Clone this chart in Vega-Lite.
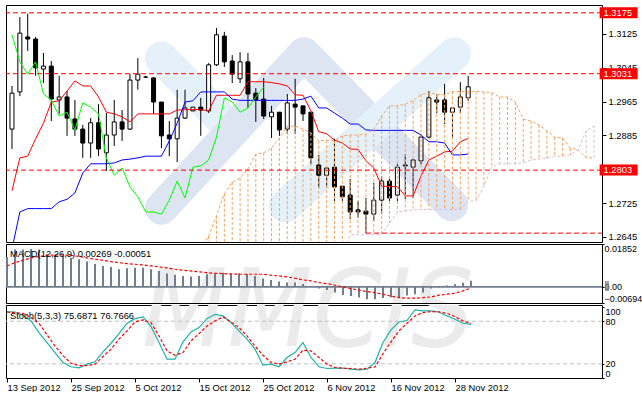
{
 "$schema": "https://vega.github.io/schema/vega-lite/v6.json",
 "padding": {"left": 4, "top": 4, "right": 0, "bottom": 0},
 "autosize": {"type": "pad"},
 "background": "#ffffff",
 "bounds": "flush",
 "spacing": 2,
 "config": {
  "font": "Liberation Sans",
  "view": {"stroke": "#000000", "strokeWidth": 1},
  "axis": {"labelFont": "Liberation Sans", "labelFontSize": 9.4, "labelColor": "#000000", "tickColor": "#000000", "domain": false, "grid": false}
 },
 "datasets": {
  "bars": [
   {"i":0,"o":1.2900,"h":1.3002,"l":1.2853,"c":1.2985,"tk":1.2754,"kj":1.2616,"ch":1.3123,"macd":0.01293,"sig":0.00905,"k":93.1,"d":93},
   {"i":1,"o":1.2988,"h":1.3165,"l":1.2978,"c":1.3127,"tk":1.2832,"kj":1.2704,"ch":1.3059,"macd":0.0162,"sig":0.01047,"k":93,"d":92},
   {"i":2,"o":1.3118,"h":1.3173,"l":1.3085,"c":1.3113,"tk":1.2836,"kj":1.2712,"ch":1.3030,"macd":0.0162,"sig":0.01151,"k":88.4,"d":91},
   {"i":3,"o":1.3113,"h":1.3118,"l":1.3026,"c":1.3045,"tk":1.2877,"kj":1.2712,"ch":1.3059,"macd":0.0164,"sig":0.0125,"k":80.4,"d":85},
   {"i":4,"o":1.3042,"h":1.3080,"l":1.3009,"c":1.3049,"tk":1.2914,"kj":1.2712,"ch":1.2983,"macd":0.0162,"sig":0.01315,"k":64,"d":77},
   {"i":5,"o":1.3049,"h":1.3061,"l":1.2919,"c":1.2971,"tk":1.2964,"kj":1.2712,"ch":1.2969,"macd":0.0141,"sig":0.01358,"k":50,"d":61},
   {"i":6,"o":1.2969,"h":1.3026,"l":1.2936,"c":1.2976,"tk":1.2967,"kj":1.2728,"ch":1.2931,"macd":0.0140,"sig":0.01379,"k":35.9,"d":45},
   {"i":7,"o":1.2976,"h":1.2990,"l":1.2884,"c":1.2926,"tk":1.2990,"kj":1.2734,"ch":1.2940,"macd":0.01336,"sig":0.01379,"k":21.8,"d":31.6},
   {"i":8,"o":1.2924,"h":1.2969,"l":1.2884,"c":1.2900,"tk":1.3014,"kj":1.2749,"ch":1.2898,"macd":0.01263,"sig":0.01358,"k":15.8,"d":20.7},
   {"i":9,"o":1.2900,"h":1.2910,"l":1.2832,"c":1.2867,"tk":1.3002,"kj":1.2796,"ch":1.2962,"macd":0.01194,"sig":0.01315,"k":14.3,"d":17.5},
   {"i":10,"o":1.2867,"h":1.2926,"l":1.2832,"c":1.2915,"tk":1.3002,"kj":1.2818,"ch":1.2952,"macd":0.01099,"sig":0.0125,"k":19.5,"d":17.5},
   {"i":11,"o":1.2915,"h":1.2959,"l":1.2836,"c":1.2853,"tk":1.2976,"kj":1.2818,"ch":1.2936,"macd":0.00991,"sig":0.01194,"k":22.8,"d":19.5},
   {"i":12,"o":1.2844,"h":1.2938,"l":1.2801,"c":1.2886,"tk":1.2940,"kj":1.2818,"ch":1.2832,"macd":0.00905,"sig":0.01151,"k":36.8,"d":30.3},
   {"i":13,"o":1.2886,"h":1.2969,"l":1.2860,"c":1.2917,"tk":1.2936,"kj":1.2820,"ch":1.2791,"macd":0.00862,"sig":0.0109,"k":49,"d":40.6},
   {"i":14,"o":1.2917,"h":1.2945,"l":1.2872,"c":1.2900,"tk":1.2929,"kj":1.2827,"ch":1.2808,"macd":0.00763,"sig":0.01047,"k":62.6,"d":54.7},
   {"i":15,"o":1.2900,"h":1.3030,"l":1.2898,"c":1.3016,"tk":1.2917,"kj":1.2829,"ch":1.2763,"macd":0.00806,"sig":0.01004,"k":77.2,"d":66.4},
   {"i":16,"o":1.3016,"h":1.3068,"l":1.2993,"c":1.3030,"tk":1.2936,"kj":1.2832,"ch":1.2740,"macd":0.00832,"sig":0.00978,"k":83.7,"d":79},
   {"i":17,"o":1.3023,"h":1.3026,"l":1.3021,"c":1.3023,"tk":1.2936,"kj":1.2836,"ch":1.2704,"macd":0.00832,"sig":0.00948,"k":86.1,"d":81.9},
   {"i":18,"o":1.3021,"h":1.3023,"l":1.2936,"c":1.2964,"tk":1.2936,"kj":1.2836,"ch":1.2704,"macd":0.00763,"sig":0.00905,"k":72.5,"d":78},
   {"i":19,"o":1.2964,"h":1.2964,"l":1.2855,"c":1.2884,"tk":1.2936,"kj":1.2836,"ch":1.2699,"macd":0.0069,"sig":0.00862,"k":50,"d":59.3},
   {"i":20,"o":1.2886,"h":1.2919,"l":1.2836,"c":1.2877,"tk":1.2936,"kj":1.2872,"ch":1.2732,"macd":0.00582,"sig":0.00819,"k":26.5,"d":38.2},
   {"i":21,"o":1.2877,"h":1.2993,"l":1.2822,"c":1.2926,"tk":1.2945,"kj":1.2914,"ch":1.2777,"macd":0.0053,"sig":0.00763,"k":26.5,"d":32.1},
   {"i":22,"o":1.2926,"h":1.2993,"l":1.2924,"c":1.2950,"tk":1.2946,"kj":1.2964,"ch":1.2737,"macd":0.00474,"sig":0.0072,"k":51,"d":35.9},
   {"i":23,"o":1.2943,"h":1.2952,"l":1.2943,"c":1.2952,"tk":1.2946,"kj":1.2967,"ch":1.2810,"macd":0.00453,"sig":0.0069,"k":65,"d":52.2},
   {"i":24,"o":1.2952,"h":1.2974,"l":1.2884,"c":1.2945,"tk":1.2946,"kj":1.2988,"ch":1.2813,"macd":0.00474,"sig":0.00647,"k":71,"d":62.6},
   {"i":25,"o":1.2943,"h":1.3056,"l":1.2938,"c":1.3052,"tk":1.2943,"kj":1.2988,"ch":1.2827,"macd":0.00547,"sig":0.00616,"k":83.7,"d":73.3},
   {"i":26,"o":1.3052,"h":1.3139,"l":1.3049,"c":1.3123,"tk":1.2980,"kj":1.2988,"ch":1.2881,"macd":0.0059,"sig":0.0059,"k":89.8,"d":80.4},
   {"i":27,"o":1.3120,"h":1.3130,"l":1.3047,"c":1.3059,"tk":1.2980,"kj":1.2988,"ch":1.2974,"macd":0.00616,"sig":0.00573,"k":87.5,"d":86.1},
   {"i":28,"o":1.3061,"h":1.3075,"l":1.3009,"c":1.3030,"tk":1.2980,"kj":1.2971,"ch":1.2964,"macd":0.00569,"sig":0.0056,"k":78,"d":79},
   {"i":29,"o":1.3019,"h":1.3082,"l":1.3009,"c":1.3059,"tk":1.2980,"kj":1.2968,"ch":1.2940,"macd":0.0059,"sig":0.00547,"k":66.4,"d":71},
   {"i":30,"o":1.3059,"h":1.3080,"l":1.2950,"c":1.2983,"tk":1.3012,"kj":1.2968,"ch":1.2950,"macd":0.0056,"sig":0.00547,"k":54.7,"d":59.3},
   {"i":31,"o":1.2985,"h":1.2997,"l":1.2917,"c":1.2969,"tk":1.3012,"kj":1.2968,"ch":1.2976,"macd":0.00474,"sig":0.00547,"k":40.6,"d":45},
   {"i":32,"o":1.2971,"h":1.3021,"l":1.2924,"c":1.2931,"tk":1.3012,"kj":1.2968,"ch":1.3000,"macd":0.00358,"sig":0.00547,"k":18.1,"d":32.1},
   {"i":33,"o":1.2929,"h":1.2955,"l":1.2879,"c":1.2940,"tk":1.3010,"kj":1.2968,"macd":0.00302,"sig":0.00504,"k":19.5,"d":21.8},
   {"i":34,"o":1.2940,"h":1.2940,"l":1.2884,"c":1.2898,"tk":1.3007,"kj":1.2968,"macd":0.00237,"sig":0.00474,"k":15.8,"d":19.5},
   {"i":35,"o":1.2900,"h":1.2983,"l":1.2888,"c":1.2962,"tk":1.3002,"kj":1.2968,"macd":0.00194,"sig":0.00431,"k":28.9,"d":22.8},
   {"i":36,"o":1.2959,"h":1.3019,"l":1.2888,"c":1.2952,"tk":1.2981,"kj":1.2968,"macd":0.00194,"sig":0.00375,"k":35.9,"d":26.5},
   {"i":37,"o":1.2955,"h":1.2955,"l":1.2919,"c":1.2936,"tk":1.2980,"kj":1.2971,"macd":0.00129,"sig":0.00302,"k":50,"d":39.2},
   {"i":38,"o":1.2940,"h":1.2940,"l":1.2817,"c":1.2832,"tk":1.2943,"kj":1.2978,"macd":0.00022,"sig":0.00259,"k":28.9,"d":38.2},
   {"i":39,"o":1.2815,"h":1.2839,"l":1.2761,"c":1.2791,"tk":1.2894,"kj":1.2950,"macd":-0.00065,"sig":0.00185,"k":15.8,"d":28.9},
   {"i":40,"o":1.2791,"h":1.2810,"l":1.2761,"c":1.2808,"tk":1.2889,"kj":1.2950,"macd":-0.00138,"sig":0.00142,"k":13.4,"d":19.5},
   {"i":41,"o":1.2810,"h":1.2877,"l":1.2730,"c":1.2763,"tk":1.2874,"kj":1.2938,"macd":-0.00246,"sig":0.00073,"k":13.8,"d":14.8},
   {"i":42,"o":1.2765,"h":1.2765,"l":1.2730,"c":1.2740,"tk":1.2867,"kj":1.2926,"macd":-0.00345,"sig":0.0,"k":13.8,"d":13.8},
   {"i":43,"o":1.2744,"h":1.2782,"l":1.2687,"c":1.2704,"tk":1.2853,"kj":1.2912,"macd":-0.00388,"sig":-0.00073,"k":12.4,"d":13.4},
   {"i":44,"o":1.2709,"h":1.2730,"l":1.2690,"c":1.2704,"tk":1.2852,"kj":1.2912,"macd":-0.00461,"sig":-0.00142,"k":11.5,"d":12.4},
   {"i":45,"o":1.2706,"h":1.2737,"l":1.2654,"c":1.2699,"tk":1.2825,"kj":1.2898,"macd":-0.0053,"sig":-0.00203,"k":12.4,"d":13.8},
   {"i":46,"o":1.2699,"h":1.2773,"l":1.2683,"c":1.2732,"tk":1.2808,"kj":1.2897,"macd":-0.0053,"sig":-0.00246,"k":21.8,"d":15.5},
   {"i":47,"o":1.2732,"h":1.2789,"l":1.2699,"c":1.2777,"tk":1.2765,"kj":1.2897,"macd":-0.00474,"sig":-0.00315,"k":50,"d":34.2},
   {"i":48,"o":1.2777,"h":1.2782,"l":1.2730,"c":1.2737,"tk":1.2764,"kj":1.2897,"macd":-0.00461,"sig":-0.004,"k":67.8,"d":51},
   {"i":49,"o":1.2744,"h":1.2817,"l":1.2730,"c":1.2810,"tk":1.2764,"kj":1.2897,"macd":-0.00444,"sig":-0.00461,"k":79,"d":66.4},
   {"i":50,"o":1.2815,"h":1.2841,"l":1.2735,"c":1.2813,"tk":1.2742,"kj":1.2897,"macd":-0.00366,"sig":-0.00487,"k":81,"d":77.2},
   {"i":51,"o":1.2810,"h":1.2827,"l":1.2737,"c":1.2827,"tk":1.2742,"kj":1.2897,"macd":-0.00315,"sig":-0.00487,"k":95.9,"d":87.5},
   {"i":52,"o":1.2825,"h":1.2888,"l":1.2817,"c":1.2881,"tk":1.2789,"kj":1.2886,"macd":-0.00246,"sig":-0.00461,"k":94.5,"d":92.2},
   {"i":53,"o":1.2881,"h":1.2990,"l":1.2879,"c":1.2974,"tk":1.2827,"kj":1.2870,"macd":-0.00065,"sig":-0.00431,"k":94.5,"d":93.6},
   {"i":54,"o":1.2969,"h":1.2983,"l":1.2938,"c":1.2964,"tk":1.2836,"kj":1.2870,"macd":-0.0003,"sig":-0.00358,"k":93,"d":93.1},
   {"i":55,"o":1.2969,"h":1.3007,"l":1.2912,"c":1.2940,"tk":1.2846,"kj":1.2867,"macd":0.00056,"sig":-0.00315,"k":87.5,"d":91.2},
   {"i":56,"o":1.2940,"h":1.2950,"l":1.2877,"c":1.2950,"tk":1.2848,"kj":1.2839,"macd":0.00116,"sig":-0.00272,"k":82.8,"d":86.5},
   {"i":57,"o":1.2952,"h":1.3011,"l":1.2938,"c":1.2976,"tk":1.2870,"kj":1.2839,"macd":0.00185,"sig":-0.00172,"k":77.2,"d":80.4},
   {"i":58,"o":1.2974,"h":1.3026,"l":1.2967,"c":1.3000,"tk":1.2878,"kj":1.2841,"macd":0.00269,"sig":-0.00051,"k":75.69,"d":76.77}
  ],
  "cloud": [
   {"i":24,"a":1.2616,"b":1.2600},{"i":25,"a":1.2647,"b":1.2600},{"i":26,"a":1.2695,"b":1.2600},{"i":27,"a":1.2747,"b":1.2600},
   {"i":28,"a":1.2775,"b":1.2600},{"i":29,"a":1.2784,"b":1.2600},{"i":30,"a":1.2806,"b":1.2600},{"i":31,"a":1.2841,"b":1.2600},
   {"i":32,"a":1.2844,"b":1.2600},{"i":33,"a":1.2855,"b":1.2600},{"i":34,"a":1.2879,"b":1.2600},{"i":35,"a":1.2907,"b":1.2600},
   {"i":36,"a":1.2907,"b":1.2600},{"i":37,"a":1.2900,"b":1.2600},{"i":38,"a":1.2891,"b":1.2600},{"i":39,"a":1.2872,"b":1.2600},
   {"i":40,"a":1.2874,"b":1.2600},{"i":41,"a":1.2872,"b":1.2600},{"i":42,"a":1.2884,"b":1.2600},{"i":43,"a":1.2886,"b":1.2650},
   {"i":44,"a":1.2886,"b":1.2650},{"i":45,"a":1.2888,"b":1.2650},{"i":46,"a":1.2900,"b":1.2650},{"i":47,"a":1.2931,"b":1.2651},
   {"i":48,"a":1.2955,"b":1.2678},{"i":49,"a":1.2955,"b":1.2704},{"i":50,"a":1.2959,"b":1.2706},{"i":51,"a":1.2967,"b":1.2709},
   {"i":52,"a":1.2982,"b":1.2710},{"i":53,"a":1.2985,"b":1.2710},{"i":54,"a":1.2983,"b":1.2710},{"i":55,"a":1.2981,"b":1.2710},
   {"i":56,"a":1.2989,"b":1.2710},{"i":57,"a":1.2989,"b":1.2710},{"i":58,"a":1.2989,"b":1.2730},{"i":59,"a":1.2989,"b":1.2730},
   {"i":60,"a":1.2988,"b":1.2765},{"i":61,"a":1.2986,"b":1.2810},{"i":62,"a":1.2976,"b":1.2818},{"i":63,"a":1.2976,"b":1.2818},
   {"i":64,"a":1.2964,"b":1.2818},{"i":65,"a":1.2924,"b":1.2820},{"i":66,"a":1.2919,"b":1.2827},{"i":67,"a":1.2910,"b":1.2829},
   {"i":68,"a":1.2896,"b":1.2832},{"i":69,"a":1.2881,"b":1.2836},{"i":70,"a":1.2879,"b":1.2836},{"i":71,"a":1.2855,"b":1.2839},
   {"i":72,"a":1.2851,"b":1.2853},{"i":73,"a":1.2832,"b":1.2896},{"i":74,"a":1.2832,"b":1.2907}
  ],
  "logo": [
   {"band":"light1","i":19,"p":1.3068},{"band":"light1","i":28.1,"p":1.2896},
   {"band":"lav","i":19,"p":1.2713},{"band":"lav","i":37.1,"p":1.3078},{"band":"lav","i":55.9,"p":1.2721},
   {"band":"light2","i":34.75,"p":1.2718},{"band":"light2","i":56.25,"p":1.3078}
  ],
  "levels": [{"p":1.3175},{"p":1.3031},{"p":1.2803}],
  "seg": [{"p":1.2654,"from":45,"to":75}]
 },
 "vconcat": [
  {
   "width": 596, "height": 237,
   "data": {"name": "bars"},
   "layer": [
    {"data": {"name": "logo"}, "transform": [{"filter": "datum.band == 'light1'"}],
     "mark": {"type": "line", "strokeWidth": 33, "strokeCap": "round", "color": "#E4F1FA", "clip": true},
     "encoding": {"x": {"field": "i", "type": "quantitative", "scale": {"domain": [-0.125, 74.375], "nice": false, "zero": false}, "axis": null},
                  "y": {"field": "p", "type": "quantitative", "scale": {"domain": [1.2633, 1.31935], "nice": false, "zero": false}, "axis": {"orient": "right", "title": null, "values": [1.3125, 1.3045, 1.2965, 1.2885, 1.2725, 1.2645], "format": ".4f", "tickSize": 4, "labelPadding": 2, "labelOverlap": false, "labelBound": false}}}},
    {"data": {"name": "logo"}, "transform": [{"filter": "datum.band == 'lav'"}],
     "mark": {"type": "line", "strokeWidth": 33, "strokeCap": "round", "strokeJoin": "round", "color": "#DDE4F2", "clip": true},
     "encoding": {"x": {"field": "i", "type": "quantitative", "scale": {"domain": [-0.125, 74.375], "nice": false, "zero": false}, "axis": null},
                  "y": {"field": "p", "type": "quantitative", "scale": {"domain": [1.2633, 1.31935], "nice": false, "zero": false}, "axis": {"orient": "right", "title": null, "values": [1.3125, 1.3045, 1.2965, 1.2885, 1.2725, 1.2645], "format": ".4f", "tickSize": 4, "labelPadding": 2, "labelOverlap": false, "labelBound": false}}}},
    {"data": {"name": "logo"}, "transform": [{"filter": "datum.band == 'light2'"}],
     "mark": {"type": "line", "strokeWidth": 33, "strokeCap": "round", "color": "#E4F1FA", "clip": true},
     "encoding": {"x": {"field": "i", "type": "quantitative", "scale": {"domain": [-0.125, 74.375], "nice": false, "zero": false}, "axis": null},
                  "y": {"field": "p", "type": "quantitative", "scale": {"domain": [1.2633, 1.31935], "nice": false, "zero": false}, "axis": {"orient": "right", "title": null, "values": [1.3125, 1.3045, 1.2965, 1.2885, 1.2725, 1.2645], "format": ".4f", "tickSize": 4, "labelPadding": 2, "labelOverlap": false, "labelBound": false}}}},
    {"mark": {"type": "rule", "color": "#000000", "strokeWidth": 1, "clip": true},
     "encoding": {"x": {"field": "i", "type": "quantitative", "scale": {"domain": [-0.125, 74.375], "nice": false, "zero": false}, "axis": null},
                  "y": {"field": "l", "type": "quantitative", "scale": {"domain": [1.2633, 1.31935], "nice": false, "zero": false}, "axis": {"orient": "right", "title": null, "values": [1.3125, 1.3045, 1.2965, 1.2885, 1.2725, 1.2645], "format": ".4f", "tickSize": 4, "labelPadding": 2, "labelOverlap": false, "labelBound": false}},
                  "y2": {"field": "h"}}},
    {"mark": {"type": "bar", "width": 4, "stroke": "#000000", "strokeWidth": 1, "clip": true},
     "encoding": {"x": {"field": "i", "type": "quantitative", "scale": {"domain": [-0.125, 74.375], "nice": false, "zero": false}, "axis": null},
                  "y": {"field": "o", "type": "quantitative", "scale": {"domain": [1.2633, 1.31935], "nice": false, "zero": false}, "axis": {"orient": "right", "title": null, "values": [1.3125, 1.3045, 1.2965, 1.2885, 1.2725, 1.2645], "format": ".4f", "tickSize": 4, "labelPadding": 2, "labelOverlap": false, "labelBound": false}},
                  "y2": {"field": "c"},
                  "fill": {"condition": {"test": "datum.c >= datum.o", "value": "#ffffff"}, "value": "#000000"}}},
    {"mark": {"type": "line", "color": "#FF0000", "strokeWidth": 1, "clip": true},
     "encoding": {"x": {"field": "i", "type": "quantitative", "scale": {"domain": [-0.125, 74.375], "nice": false, "zero": false}, "axis": null},
                  "y": {"field": "tk", "type": "quantitative", "scale": {"domain": [1.2633, 1.31935], "nice": false, "zero": false}, "axis": {"orient": "right", "title": null, "values": [1.3125, 1.3045, 1.2965, 1.2885, 1.2725, 1.2645], "format": ".4f", "tickSize": 4, "labelPadding": 2, "labelOverlap": false, "labelBound": false}}}},
    {"mark": {"type": "line", "color": "#0000FF", "strokeWidth": 1, "clip": true},
     "encoding": {"x": {"field": "i", "type": "quantitative", "scale": {"domain": [-0.125, 74.375], "nice": false, "zero": false}, "axis": null},
                  "y": {"field": "kj", "type": "quantitative", "scale": {"domain": [1.2633, 1.31935], "nice": false, "zero": false}, "axis": {"orient": "right", "title": null, "values": [1.3125, 1.3045, 1.2965, 1.2885, 1.2725, 1.2645], "format": ".4f", "tickSize": 4, "labelPadding": 2, "labelOverlap": false, "labelBound": false}}}},
    {"data": {"name": "cloud"},
     "mark": {"type": "rule", "strokeWidth": 1, "strokeDash": [3, 2], "clip": true},
     "encoding": {"x": {"field": "i", "type": "quantitative", "scale": {"domain": [-0.125, 74.375], "nice": false, "zero": false}, "axis": null},
                  "y": {"field": "a", "type": "quantitative", "scale": {"domain": [1.2633, 1.31935], "nice": false, "zero": false}, "axis": {"orient": "right", "title": null, "values": [1.3125, 1.3045, 1.2965, 1.2885, 1.2725, 1.2645], "format": ".4f", "tickSize": 4, "labelPadding": 2, "labelOverlap": false, "labelBound": false}},
                  "y2": {"field": "b"},
                  "color": {"condition": {"test": "datum.a >= datum.b", "value": "#F4A460"}, "value": "#D8BFD8"}}},
    {"mark": {"type": "line", "color": "#00FF00", "strokeWidth": 1, "clip": true},
     "encoding": {"x": {"field": "i", "type": "quantitative", "scale": {"domain": [-0.125, 74.375], "nice": false, "zero": false}, "axis": null},
                  "y": {"field": "ch", "type": "quantitative", "scale": {"domain": [1.2633, 1.31935], "nice": false, "zero": false}, "axis": {"orient": "right", "title": null, "values": [1.3125, 1.3045, 1.2965, 1.2885, 1.2725, 1.2645], "format": ".4f", "tickSize": 4, "labelPadding": 2, "labelOverlap": false, "labelBound": false}}}},
    {"data": {"name": "cloud"},
     "mark": {"type": "line", "color": "#F4A460", "strokeWidth": 1, "strokeDash": [3, 2], "clip": true},
     "encoding": {"x": {"field": "i", "type": "quantitative", "scale": {"domain": [-0.125, 74.375], "nice": false, "zero": false}, "axis": null},
                  "y": {"field": "a", "type": "quantitative", "scale": {"domain": [1.2633, 1.31935], "nice": false, "zero": false}, "axis": {"orient": "right", "title": null, "values": [1.3125, 1.3045, 1.2965, 1.2885, 1.2725, 1.2645], "format": ".4f", "tickSize": 4, "labelPadding": 2, "labelOverlap": false, "labelBound": false}}}},
    {"data": {"name": "cloud"},
     "mark": {"type": "line", "color": "#D8BFD8", "strokeWidth": 1, "strokeDash": [3, 2], "clip": true},
     "encoding": {"x": {"field": "i", "type": "quantitative", "scale": {"domain": [-0.125, 74.375], "nice": false, "zero": false}, "axis": null},
                  "y": {"field": "b", "type": "quantitative", "scale": {"domain": [1.2633, 1.31935], "nice": false, "zero": false}, "axis": {"orient": "right", "title": null, "values": [1.3125, 1.3045, 1.2965, 1.2885, 1.2725, 1.2645], "format": ".4f", "tickSize": 4, "labelPadding": 2, "labelOverlap": false, "labelBound": false}}}},
    {"data": {"name": "levels"},
     "mark": {"type": "rule", "color": "#FF0000", "strokeWidth": 1, "strokeDash": [5, 3]},
     "encoding": {"y": {"field": "p", "type": "quantitative", "scale": {"domain": [1.2633, 1.31935], "nice": false, "zero": false}, "axis": {"orient": "right", "title": null, "values": [1.3125, 1.3045, 1.2965, 1.2885, 1.2725, 1.2645], "format": ".4f", "tickSize": 4, "labelPadding": 2, "labelOverlap": false, "labelBound": false}}}},
    {"data": {"name": "seg"},
     "mark": {"type": "rule", "color": "#FF0000", "strokeWidth": 1, "strokeDash": [5, 3], "clip": true},
     "encoding": {"x": {"field": "from", "type": "quantitative", "scale": {"domain": [-0.125, 74.375], "nice": false, "zero": false}, "axis": null},
                  "x2": {"field": "to"},
                  "y": {"field": "p", "type": "quantitative", "scale": {"domain": [1.2633, 1.31935], "nice": false, "zero": false}, "axis": {"orient": "right", "title": null, "values": [1.3125, 1.3045, 1.2965, 1.2885, 1.2725, 1.2645], "format": ".4f", "tickSize": 4, "labelPadding": 2, "labelOverlap": false, "labelBound": false}}}},
    {"data": {"name": "levels"},
     "mark": {"type": "tick", "orient": "horizontal", "color": "#FF0000", "thickness": 11, "opacity": 1},
     "encoding": {"x": {"datum": 77.125, "type": "quantitative", "scale": {"domain": [-0.125, 74.375], "nice": false, "zero": false}, "axis": null},
                  "y": {"field": "p", "type": "quantitative", "scale": {"domain": [1.2633, 1.31935], "nice": false, "zero": false}, "axis": {"orient": "right", "title": null, "values": [1.3125, 1.3045, 1.2965, 1.2885, 1.2725, 1.2645], "format": ".4f", "tickSize": 4, "labelPadding": 2, "labelOverlap": false, "labelBound": false}},
                  "size": {"value": 38}}},
    {"data": {"name": "levels"},
     "mark": {"type": "text", "align": "left", "baseline": "middle", "color": "#ffffff", "font": "Liberation Sans", "fontSize": 9.4},
     "encoding": {"x": {"datum": 75.2, "type": "quantitative", "scale": {"domain": [-0.125, 74.375], "nice": false, "zero": false}, "axis": null},
                  "y": {"field": "p", "type": "quantitative", "scale": {"domain": [1.2633, 1.31935], "nice": false, "zero": false}, "axis": {"orient": "right", "title": null, "values": [1.3125, 1.3045, 1.2965, 1.2885, 1.2725, 1.2645], "format": ".4f", "tickSize": 4, "labelPadding": 2, "labelOverlap": false, "labelBound": false}},
                  "text": {"field": "p", "type": "quantitative", "format": ".4f"}}}
   ]
  },
  {
   "width": 596, "height": 59,
   "data": {"name": "bars"},
   "layer": [
    {"data": {"values": [{"t": "MMCIS"}]},
     "mark": {"type": "text", "align": "center", "baseline": "alphabetic", "font": "Liberation Sans Narrow, DejaVu Sans Condensed, Liberation Sans", "fontSize": 110, "fontStyle": "italic", "color": "#EBEBEB", "clip": true},
     "encoding": {"x": {"datum": 37.625, "type": "quantitative", "scale": {"domain": [-0.125, 74.375], "nice": false, "zero": false}, "axis": null},
                  "y": {"datum": -0.0262, "type": "quantitative", "scale": {"domain": [-0.00694, 0.01852], "nice": false, "zero": false}, "axis": {"orient": "right", "title": null, "values": [0.01852, 0, -0.00694], "labelExpr": "datum.value == 0 ? '0.00' : format(datum.value, '.5f')", "labelFlush": true, "labelFontSize": 9, "tickSize": 2, "labelPadding": 0, "labelOverlap": false, "labelBound": false}},
                  "text": {"field": "t"}}},
    {"data": {"values": [{"z": 0}]},
     "mark": {"type": "rule", "color": "#6F7E8E", "strokeWidth": 1.6},
     "encoding": {"y": {"field": "z", "type": "quantitative", "scale": {"domain": [-0.00694, 0.01852], "nice": false, "zero": false}, "axis": {"orient": "right", "title": null, "values": [0.01852, 0, -0.00694], "labelExpr": "datum.value == 0 ? '0.00' : format(datum.value, '.5f')", "labelFlush": true, "labelFontSize": 9, "tickSize": 2, "labelPadding": 0, "labelOverlap": false, "labelBound": false}}}},
    {"mark": {"type": "rule", "color": "#6F7E8E", "strokeWidth": 2, "clip": true},
     "encoding": {"x": {"field": "i", "type": "quantitative", "scale": {"domain": [-0.125, 74.375], "nice": false, "zero": false}, "axis": null},
                  "y": {"field": "macd", "type": "quantitative", "scale": {"domain": [-0.00694, 0.01852], "nice": false, "zero": false}, "axis": {"orient": "right", "title": null, "values": [0.01852, 0, -0.00694], "labelExpr": "datum.value == 0 ? '0.00' : format(datum.value, '.5f')", "labelFlush": true, "labelFontSize": 9, "tickSize": 2, "labelPadding": 0, "labelOverlap": false, "labelBound": false}},
                  "y2": {"datum": 0}}},
    {"mark": {"type": "line", "color": "#FF0000", "strokeWidth": 1.2, "strokeDash": [3, 2], "clip": true},
     "encoding": {"x": {"field": "i", "type": "quantitative", "scale": {"domain": [-0.125, 74.375], "nice": false, "zero": false}, "axis": null},
                  "y": {"field": "sig", "type": "quantitative", "scale": {"domain": [-0.00694, 0.01852], "nice": false, "zero": false}, "axis": {"orient": "right", "title": null, "values": [0.01852, 0, -0.00694], "labelExpr": "datum.value == 0 ? '0.00' : format(datum.value, '.5f')", "labelFlush": true, "labelFontSize": 9, "tickSize": 2, "labelPadding": 0, "labelOverlap": false, "labelBound": false}}}},
    {"data": {"values": [{"t": "MACD(12,26,9) 0.00269 -0.00051"}]},
     "mark": {"type": "text", "align": "left", "baseline": "middle", "font": "Liberation Sans", "fontSize": 9.4, "color": "#000000"},
     "encoding": {"x": {"datum": 0.375, "type": "quantitative", "scale": {"domain": [-0.125, 74.375], "nice": false, "zero": false}, "axis": null},
                  "y": {"datum": 0.01442, "type": "quantitative", "scale": {"domain": [-0.00694, 0.01852], "nice": false, "zero": false}, "axis": {"orient": "right", "title": null, "values": [0.01852, 0, -0.00694], "labelExpr": "datum.value == 0 ? '0.00' : format(datum.value, '.5f')", "labelFlush": true, "labelFontSize": 9, "tickSize": 2, "labelPadding": 0, "labelOverlap": false, "labelBound": false}},
                  "text": {"field": "t"}}},
    {"data": {"values": [{"v": 0.0004}]},
     "mark": {"type": "tick", "orient": "horizontal", "color": "#6F7E8E", "thickness": 10},
     "encoding": {"x": {"datum": 75.0, "type": "quantitative", "scale": {"domain": [-0.125, 74.375], "nice": false, "zero": false}, "axis": null},
                  "y": {"field": "v", "type": "quantitative", "scale": {"domain": [-0.00694, 0.01852], "nice": false, "zero": false}, "axis": {"orient": "right", "title": null, "values": [0.01852, 0, -0.00694], "labelExpr": "datum.value == 0 ? '0.00' : format(datum.value, '.5f')", "labelFlush": true, "labelFontSize": 9, "tickSize": 2, "labelPadding": 0, "labelOverlap": false, "labelBound": false}},
                  "size": {"value": 4}}}
   ]
  },
  {
   "width": 596, "height": 73,
   "data": {"name": "bars"},
   "layer": [
    {"data": {"values": [{"t": "MMCIS"}]},
     "mark": {"type": "text", "align": "center", "baseline": "alphabetic", "font": "Liberation Sans Narrow, DejaVu Sans Condensed, Liberation Sans", "fontSize": 110, "fontStyle": "italic", "color": "#EBEBEB", "clip": true},
     "encoding": {"x": {"datum": 37.625, "type": "quantitative", "scale": {"domain": [-0.125, 74.375], "nice": false, "zero": false}, "axis": {"title": null, "values": [0, 8, 16, 24, 32, 40, 48, 56], "labelExpr": "['13 Sep 2012','25 Sep 2012','5 Oct 2012','15 Oct 2012','25 Oct 2012','6 Nov 2012','16 Nov 2012','28 Nov 2012'][round(datum.value / 8)]", "labelAlign": "left", "labelBaseline": "top", "tickSize": 4, "labelPadding": 1, "labelOverlap": false, "labelFlush": false, "labelBound": false}},
                  "y": {"datum": 45.1, "type": "quantitative", "scale": {"domain": [0, 102.9], "nice": false, "zero": false}, "axis": {"orient": "right", "title": null, "values": [100, 80, 20, 0], "labelFlush": 4, "labelFontSize": 9, "tickSize": 2, "labelPadding": 1, "labelOverlap": false, "labelBound": false}},
                  "text": {"field": "t"}}},
    {"data": {"values": [{"lv": 20}, {"lv": 80}]},
     "mark": {"type": "rule", "color": "#C0C0C0", "strokeWidth": 1, "strokeDash": [4, 3]},
     "encoding": {"y": {"field": "lv", "type": "quantitative", "scale": {"domain": [0, 102.9], "nice": false, "zero": false}, "axis": {"orient": "right", "title": null, "values": [100, 80, 20, 0], "labelFlush": 4, "labelFontSize": 9, "tickSize": 2, "labelPadding": 1, "labelOverlap": false, "labelBound": false}}}},
    {"mark": {"type": "line", "color": "#20B2AA", "strokeWidth": 1.2, "clip": true},
     "encoding": {"x": {"field": "i", "type": "quantitative", "scale": {"domain": [-0.125, 74.375], "nice": false, "zero": false}, "axis": {"title": null, "values": [0, 8, 16, 24, 32, 40, 48, 56], "labelExpr": "['13 Sep 2012','25 Sep 2012','5 Oct 2012','15 Oct 2012','25 Oct 2012','6 Nov 2012','16 Nov 2012','28 Nov 2012'][round(datum.value / 8)]", "labelAlign": "left", "labelBaseline": "top", "tickSize": 4, "labelPadding": 1, "labelOverlap": false, "labelFlush": false, "labelBound": false}},
                  "y": {"field": "k", "type": "quantitative", "scale": {"domain": [0, 102.9], "nice": false, "zero": false}, "axis": {"orient": "right", "title": null, "values": [100, 80, 20, 0], "labelFlush": 4, "labelFontSize": 9, "tickSize": 2, "labelPadding": 1, "labelOverlap": false, "labelBound": false}}}},
    {"mark": {"type": "line", "color": "#FF0000", "strokeWidth": 1.2, "strokeDash": [3, 2], "clip": true},
     "encoding": {"x": {"field": "i", "type": "quantitative", "scale": {"domain": [-0.125, 74.375], "nice": false, "zero": false}, "axis": {"title": null, "values": [0, 8, 16, 24, 32, 40, 48, 56], "labelExpr": "['13 Sep 2012','25 Sep 2012','5 Oct 2012','15 Oct 2012','25 Oct 2012','6 Nov 2012','16 Nov 2012','28 Nov 2012'][round(datum.value / 8)]", "labelAlign": "left", "labelBaseline": "top", "tickSize": 4, "labelPadding": 1, "labelOverlap": false, "labelFlush": false, "labelBound": false}},
                  "y": {"field": "d", "type": "quantitative", "scale": {"domain": [0, 102.9], "nice": false, "zero": false}, "axis": {"orient": "right", "title": null, "values": [100, 80, 20, 0], "labelFlush": 4, "labelFontSize": 9, "tickSize": 2, "labelPadding": 1, "labelOverlap": false, "labelBound": false}}}},
    {"data": {"values": [{"t": "Stoch(5,3,3) 75.6871 76.7666"}]},
     "mark": {"type": "text", "align": "left", "baseline": "middle", "font": "Liberation Sans", "fontSize": 9.4, "color": "#000000"},
     "encoding": {"x": {"datum": 0.375, "type": "quantitative", "scale": {"domain": [-0.125, 74.375], "nice": false, "zero": false}, "axis": {"title": null, "values": [0, 8, 16, 24, 32, 40, 48, 56], "labelExpr": "['13 Sep 2012','25 Sep 2012','5 Oct 2012','15 Oct 2012','25 Oct 2012','6 Nov 2012','16 Nov 2012','28 Nov 2012'][round(datum.value / 8)]", "labelAlign": "left", "labelBaseline": "top", "tickSize": 4, "labelPadding": 1, "labelOverlap": false, "labelFlush": false, "labelBound": false}},
                  "y": {"datum": 87.4, "type": "quantitative", "scale": {"domain": [0, 102.9], "nice": false, "zero": false}, "axis": {"orient": "right", "title": null, "values": [100, 80, 20, 0], "labelFlush": 4, "labelFontSize": 9, "tickSize": 2, "labelPadding": 1, "labelOverlap": false, "labelBound": false}},
                  "text": {"field": "t"}}}
   ]
  }
 ]
}
